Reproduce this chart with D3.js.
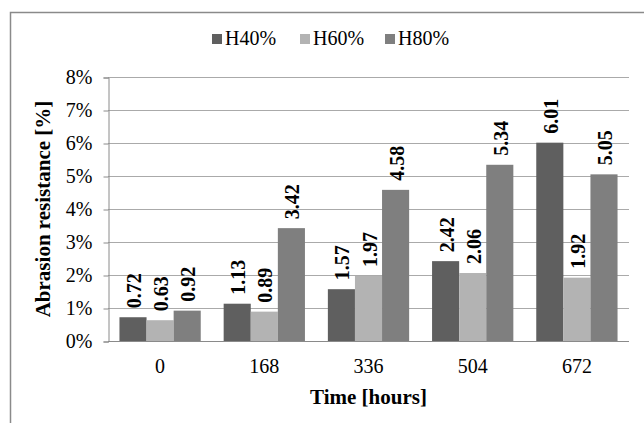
<!DOCTYPE html>
<html><head><meta charset="utf-8">
<script src="https://cdn.jsdelivr.net/npm/d3@7/dist/d3.min.js"></script>
<style>body{margin:0;background:#fff}svg{display:block}</style>
</head><body>
<script>
const categories = ["0","168","336","504","672"];
const seriesNames = ["H40%","H60%","H80%"];
const h40 = [0.72,1.13,1.57,2.42,6.01];
const h60 = [0.63,0.89,1.97,2.06,1.92];
const h80 = [0.92,3.42,4.58,5.34,5.05];
const yTicks = [0,1,2,3,4,5,6,7,8];
const colors = ["#5f5f5f","#b3b3b3","#7f7f7f"];
const series = [h40,h60,h80];
const FONT = "Liberation Serif";

const W=644,H=423;
const svg=d3.select("body").append("svg").attr("width",W).attr("height",H).attr("font-family",FONT);
const m={left:108,right:629,top:77,bottom:341};

// outer border
svg.append("path").attr("d",`M10.5,${H} V12.5 H${W}`).attr("fill","none").attr("stroke","#8a8a8a").attr("stroke-width",1.5);

const x0=d3.scaleBand().domain(categories).range([m.left,m.right]).paddingInner(0.22).paddingOuter(0.11);
const x1=d3.scaleBand().domain(seriesNames).range([0,x0.bandwidth()]);
const y=d3.scaleLinear().domain([0,8]).range([m.bottom,m.top]);

// gridlines
svg.append("g").selectAll("line").data(yTicks).join("line")
  .attr("x1",m.left).attr("x2",m.right).attr("y1",d=>y(d)+0.5).attr("y2",d=>y(d)+0.5)
  .attr("stroke","#aaaaaa").attr("stroke-width",1);

// y axis
const yAxis=svg.append("g").attr("transform",`translate(${m.left+0.5},0.5)`)
  .call(d3.axisLeft(y).tickValues(yTicks).tickFormat(d=>d+"%").tickSize(5).tickPadding(11));
yAxis.attr("font-family",FONT).attr("font-size",20);
yAxis.select(".domain").attr("stroke","#8a8a8a");
yAxis.selectAll(".tick line").attr("stroke","#8a8a8a");
yAxis.selectAll("text").attr("fill","#000").attr("font-family",FONT);

// bars
const groups=svg.append("g").selectAll("g").data(categories).join("g")
  .attr("transform",d=>`translate(${x0(d)},0)`);
groups.selectAll("rect").data((d,i)=>series.map((s,j)=>({k:seriesNames[j],v:s[i],j})))
  .join("rect").attr("x",d=>x1(d.k)).attr("width",x1.bandwidth())
  .attr("y",d=>y(d.v)).attr("height",d=>y(0)-y(d.v)).attr("fill",d=>colors[d.j]);
groups.selectAll("text").data((d,i)=>series.map((s,j)=>({k:seriesNames[j],v:s[i],j})))
  .join("text")
  .attr("transform",d=>`translate(${x1(d.k)+x1.bandwidth()/2+8},${y(d.v)-9}) rotate(-90)`)
  .attr("font-family",FONT).attr("font-size",20).attr("font-weight","bold").attr("fill","#000")
  .text(d=>d.v.toFixed(2));

// x axis line
svg.append("line").attr("x1",m.left).attr("x2",m.right).attr("y1",y(0)+0.5).attr("y2",y(0)+0.5).attr("stroke","#8a8a8a");
svg.append("g").selectAll("text").data(categories).join("text")
  .attr("x",d=>x0(d)+x0.bandwidth()/2).attr("y",373).attr("text-anchor","middle")
  .attr("font-family",FONT).attr("font-size",20).text(d=>d);

// axis titles
svg.append("text").attr("x",(m.left+m.right)/2).attr("y",404).attr("text-anchor","middle")
  .attr("font-family",FONT).attr("font-size",21).attr("font-weight","bold").text("Time [hours]");
svg.append("text").attr("transform",`translate(50,${(m.top+m.bottom)/2}) rotate(-90)`).attr("text-anchor","middle")
  .attr("font-family",FONT).attr("font-size",21).attr("font-weight","bold").text("Abrasion resistance [%]");

// legend
const legX=[212,300,385];
const leg=svg.append("g").selectAll("g").data(seriesNames).join("g").attr("transform",(d,i)=>`translate(${legX[i]},0)`);
leg.append("rect").attr("x",0).attr("y",34).attr("width",10).attr("height",10).attr("fill",(d,i)=>colors[i]);
leg.append("text").attr("x",13).attr("y",45).attr("font-family",FONT).attr("font-size",20).text(d=>d);
</script>
</body></html>
